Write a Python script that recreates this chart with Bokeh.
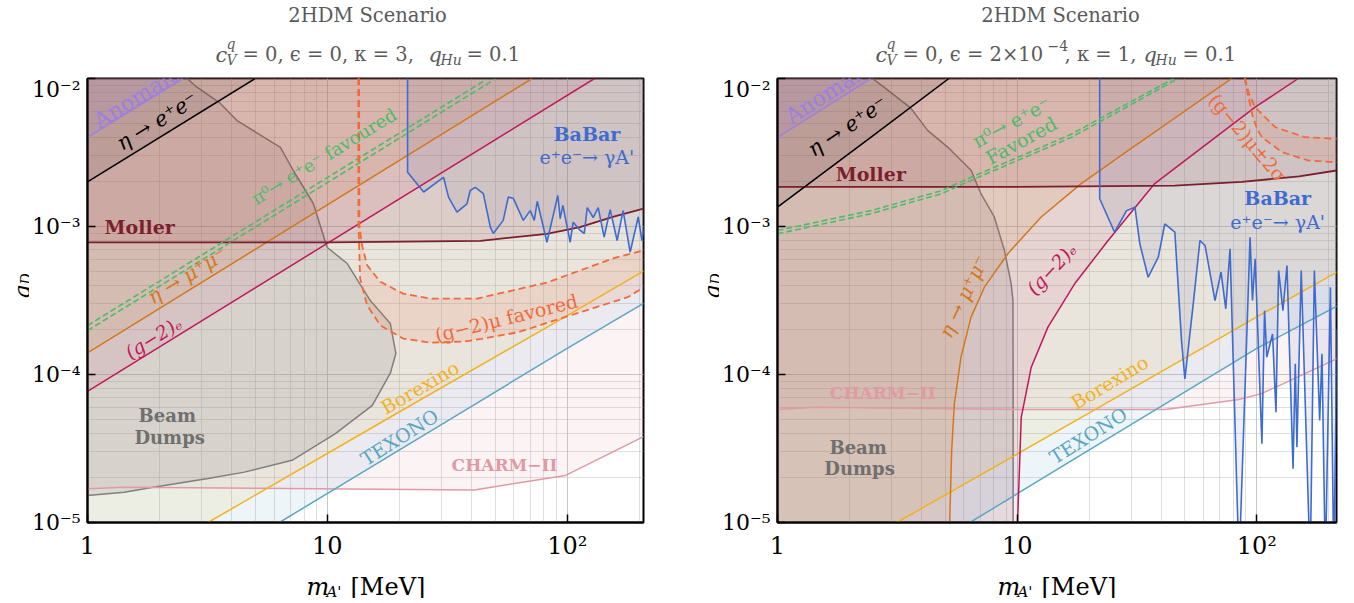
import math
from bokeh.plotting import figure
from bokeh.models import Range1d
from bokeh.layouts import row, column
from bokeh.embed import file_html
from bokeh.resources import INLINE
from bokeh.core.properties import value

SERIF = "DejaVu Serif"

# ======================= DATA =======================
X_TICK_LABELS = {1: "1", 10: "10", 100: "10²"}
Y_TICK_LABELS = {1e-2: "10⁻²", 1e-3: "10⁻³", 1e-4: "10⁻⁴", 1e-5: "10⁻⁵"}

# ---- Left panel: c_V^q = 0, eps = 0, kappa = 3, q_Hu = 0.1 ----
L_xmax = 208
L_anom_m = [1.0, 2.5]
L_anom_g = [4.0e-3, 1.0e-2]
L_etaee_m = [1.0, 5.0]
L_etaee_g = [2.0e-3, 1.0e-2]
L_etamm_m = [1.0, 71.4]
L_etamm_g = [1.4e-4, 1.0e-2]
L_ge_m = [1.0, 130.0]
L_ge_g = [7.7e-5, 1.0e-2]
L_pi0a_m = [1.0, 50.0]
L_pi0a_g = [1.98e-4, 9.9e-3]
L_pi0b_m = [1.0, 46.0]
L_pi0b_g = [2.14e-4, 9.85e-3]
L_moller_m = [1.0, 10.0, 43.5, 82.3, 113.0, 155.0, 208.0]
L_moller_g = [7.8e-4, 7.8e-4, 8.0e-4, 8.93e-4, 9.9e-4, 1.16e-3, 1.32e-3]
L_babar_m = [21.6, 21.6, 25.2, 30.5, 32.0, 34.7, 38.2, 39.4, 41.4, 44.7, 47.8, 49.2,
             54.1, 56.8, 59.6, 65.6, 70.1, 72.9, 75.0, 82.3, 91.4, 93.5, 95.9, 102.9,
             105.9, 113.3, 117.8, 121.2, 128.3, 134.6, 142.6, 151.0, 161.5, 171.0,
             183.0, 197.7, 204.8, 210.0]
L_babar_g = [5e-2, 2.33e-3, 1.71e-3, 2.15e-3, 1.58e-3, 1.25e-3, 1.42e-3, 1.75e-3,
             1.84e-3, 1.67e-3, 9.9e-4, 8.97e-4, 1.10e-3, 1.58e-3, 1.55e-3, 1.10e-3,
             1.28e-3, 1.10e-3, 1.48e-3, 7.83e-4, 1.62e-3, 1.13e-3, 1.39e-3, 7.83e-4,
             1.07e-3, 9.4e-4, 8.97e-4, 1.34e-3, 1.15e-3, 1.34e-3, 8.47e-4, 1.30e-3,
             8.04e-4, 1.28e-3, 6.70e-4, 1.16e-3, 8.04e-4, 1.0e-3]
L_gm2_up_m = [13.55, 13.6, 13.95, 14.64, 16.63, 20.7, 26.9, 42.1, 59.4, 82.6, 113.3, 155.0, 208.0]
L_gm2_up_g = [2e-2, 1.02e-3, 7.48e-4, 5.48e-4, 4.23e-4, 3.52e-4, 3.26e-4, 3.26e-4, 3.7e-4,
              4.19e-4, 5.05e-4, 6.08e-4, 6.9e-4]
L_gm2_lo_m = [13.45, 13.48, 13.7, 14.64, 16.63, 20.7, 26.9, 36.9, 44.0, 62.5, 88.7, 126.0, 178.6, 208.0]
L_gm2_lo_g = [2e-2, 1.02e-3, 4.46e-4, 2.94e-4, 2.15e-4, 1.75e-4, 1.64e-4, 1.67e-4, 1.74e-4,
              1.93e-4, 2.32e-4, 2.78e-4, 3.33e-4, 3.87e-4]
L_bd_m = [2.4, 2.60, 2.86, 3.58, 4.2, 6.37, 7.21, 8.74, 9.97, 12.1, 15.1, 18.3, 19.3, 18.3,
          15.4, 10.8, 7.13, 4.51, 3.18, 1.88, 1.42, 1.0, 0.9, 0.5, 0.5, 2.4]
L_bd_g = [1.2e-2, 1.0e-2, 8.73e-3, 6.78e-3, 5.2e-3, 3.43e-3, 2.39e-3, 1.43e-3, 7.24e-4,
          5.62e-4, 3.16e-4, 2.21e-4, 1.39e-4, 1.02e-4, 6.18e-5, 3.99e-5, 2.63e-5, 2.19e-5,
          1.98e-5, 1.73e-5, 1.60e-5, 1.52e-5, 1.5e-5, 1.5e-5, 0.1, 0.1]
L_charm_m = [1.0, 1.42, 41.0, 98.5, 208.0]
L_charm_g = [1.69e-5, 1.73e-5, 1.66e-5, 2.08e-5, 3.8e-5]
L_borex_m = [1.0, 3.18, 20.0, 100.0, 208.0]
L_borex_g = [3.4e-6, 1.0e-5, 5.6e-5, 2.5e-4, 5.0e-4]
L_texono_m = [1.0, 6.31, 20.0, 100.0, 208.0]
L_texono_g = [1.65e-6, 1.0e-5, 3.1e-5, 1.5e-4, 3.02e-4]

# ---- Right panel: c_V^q = 0, eps = 2e-4, kappa = 1, q_Hu = 0.1 ----
R_xmax = 215
R_anom_m = [1.0, 2.45]
R_anom_g = [4.0e-3, 1.0e-2]
R_etaee_m = [1.0, 2.45, 5.19]
R_etaee_g = [1.35e-3, 4.0e-3, 1.0e-2]
R_etamm_m = [1.0, 5.2, 5.23, 5.33, 5.47, 5.83, 6.42, 7.30, 9.14, 12.6, 18.5, 29.1, 78.6]
R_etamm_g = [1e-6, 1e-6, 1.0e-5, 3.06e-5, 6.34e-5, 1.31e-4, 2.44e-4, 3.89e-4, 6.55e-4,
             1.16e-3, 1.95e-3, 3.27e-3, 1.0e-2]
R_ge_m = [1.0, 10.0, 10.04, 10.4, 11.45, 13.44, 17.37, 23.96, 37.5, 98.4, 149.0]
R_ge_g = [1e-6, 1e-6, 1.0e-5, 5.14e-5, 1.12e-4, 2.09e-4, 4.1e-4, 8.04e-4, 1.95e-3, 6.4e-3, 1.0e-2]
R_pi0a_m = [1.0, 2.45, 4.81, 6.42, 12.6, 16.8, 24.0, 45.4, 47.0]
R_pi0a_g = [8.93e-4, 1.22e-3, 1.66e-3, 2.05e-3, 3.27e-3, 4.0e-3, 5.48e-3, 9.7e-3, 1.0e-2]
R_pi0b_m = [1.0, 2.45, 4.81, 6.42, 12.6, 16.8, 24.0, 45.0]
R_pi0b_g = [9.4e-4, 1.28e-3, 1.74e-3, 2.15e-3, 3.43e-3, 4.2e-3, 5.75e-3, 1.0e-2]
R_moller_m = [1.0, 10.0, 45.4, 86.5, 150.0, 215.0]
R_moller_g = [1.85e-3, 1.85e-3, 1.89e-3, 2.0e-3, 2.18e-3, 2.39e-3]
R_babar_m = [22.1, 22.1, 25.5, 28.6, 31.0, 32.5, 35.2, 38.8, 41.3, 45.5, 48.5, 50.1, 54.3,
             57.9, 60.8, 66.9, 70.9, 74.2, 77.3, 84.3, 93.7, 95.9, 98.4, 105.0, 107.7,
             110.1, 116.3, 120.2, 123.3, 128.5, 133.6, 141.6, 144.7, 147.0, 153.2, 167.0,
             173.8, 182.9, 187.0, 193.2, 202.8, 209.4, 216.0]
R_babar_g = [5e-2, 1.54e-3, 9.15e-4, 1.28e-3, 1.35e-3, 7.64e-4, 4.54e-4, 6.2e-4, 1.04e-3,
             9.15e-4, 1.70e-4, 9.35e-5, 3.01e-4, 8.04e-4, 7.44e-4, 3.16e-4, 4.91e-4,
             2.78e-4, 7.06e-4, 5e-6, 8.47e-4, 3.16e-4, 6.05e-4, 3.4e-5, 2.7e-4, 1.31e-4,
             1.88e-4, 5.56e-5, 5.05e-4, 2.7e-4, 5.45e-4, 2.31e-5, 1.18e-4, 3.23e-5,
             5.05e-4, 5e-6, 5.05e-4, 4.89e-5, 1.38e-4, 5e-6, 3.89e-4, 5e-6, 2.0e-4]
R_gm2_up_m = [89.0, 89.4, 92.5, 98.4, 119.3, 159.2, 212.6, 220.0]
R_gm2_up_g = [2e-2, 1.0e-2, 8.0e-3, 6.4e-3, 4.69e-3, 4.01e-3, 3.92e-3, 3.9e-3]
R_gm2_lo_m = [88.6, 89.0, 92.0, 96.0, 100.0, 105.0, 127.3, 164.6, 212.6, 220.0]
R_gm2_lo_g = [2e-2, 1.0e-2, 7.6e-3, 5.6e-3, 4.6e-3, 4.01e-3, 3.18e-3, 2.79e-3, 2.72e-3, 2.7e-3]
R_bd_m = [2.3, 2.49, 2.78, 3.60, 4.23, 5.13, 6.42, 7.07, 8.03, 8.85, 9.44, 9.6, 9.62, 9.62,
          0.5, 0.5, 2.3]
R_bd_g = [1.2e-2, 1.0e-2, 8.74e-3, 6.3e-3, 4.46e-3, 3.44e-3, 2.4e-3, 1.66e-3, 1.16e-3,
          6.89e-4, 4.1e-4, 3.17e-4, 1.0e-4, 5e-6, 5e-6, 0.1, 0.1]
R_charm_m = [1.0, 1.43, 10.2, 41.6, 84.1, 104.0, 128.5, 216.0]
R_charm_g = [5.8e-5, 6.0e-5, 5.8e-5, 5.8e-5, 6.78e-5, 7.4e-5, 8.65e-5, 1.28e-4]
R_borex_m = [1.0, 3.15, 20.0, 100.0, 215.0]
R_borex_g = [3.4e-6, 1.0e-5, 5.5e-5, 2.45e-4, 4.9e-4]
R_texono_m = [1.0, 6.36, 20.0, 100.0, 218.0]
R_texono_g = [1.6e-6, 1.0e-5, 3.1e-5, 1.5e-4, 2.92e-4]

# ======================= STYLE =======================
C_ANOM = "#9d7fe0"
C_ETAEE = "#000000"
C_PI0 = "#4cbb6c"
C_ETAMM = "#d4771c"
C_GE = "#c2185b"
C_MOLLER = "#7d1e2e"
C_BABAR = "#3e6bd0"
C_GM2 = "#f26a3a"
C_BD = "#7f7f7f"
C_BOREX = "#f2b21d"
C_TEXONO = "#5aa7c2"
C_CHARM = "#e09aa4"
C_TITLE = "#5a5a5a"

MAIN_H = 488      # 2 + 444 frame + 42
HEAD_H = 76
FOOT_H = 34


def make_fig(width, bl, br, xmax):
    p = figure(width=width, height=MAIN_H, x_axis_type="log", y_axis_type="log",
               x_range=Range1d(1, xmax), y_range=Range1d(1e-5, 1e-2),
               output_backend="svg", toolbar_location=None,
               min_border_left=bl, min_border_right=br,
               min_border_top=2, min_border_bottom=42)
    p.outline_line_color = "black"
    p.outline_line_width = 2
    p.outline_line_alpha = 1
    for ax in (p.xaxis, p.yaxis):
        ax.axis_line_color = "black"
        ax.axis_line_width = 2
        ax.major_tick_in = 8
        ax.major_tick_out = 0
        ax.major_tick_line_width = 1.5
        ax.minor_tick_line_color = None
        ax.major_label_text_font = SERIF
        ax.major_label_text_color = "black"
    p.xaxis.major_label_text_font_size = "24px"
    p.yaxis.major_label_text_font_size = "22px"
    p.xaxis.major_label_standoff = 5
    p.yaxis.major_label_standoff = 3
    p.xaxis.major_label_overrides = X_TICK_LABELS
    p.yaxis.major_label_overrides = Y_TICK_LABELS
    p.grid.grid_line_color = "#bfbfbf"
    p.grid.grid_line_alpha = 0.5
    p.grid.minor_grid_line_color = "#bfbfbf"
    p.grid.minor_grid_line_alpha = 0.5
    return p


def strip(width, height):
    f = figure(width=width, height=height, x_range=Range1d(0, width), y_range=Range1d(height, 0),
               x_axis_type=None, y_axis_type=None, output_backend="svg",
               toolbar_location=None, min_border=0)
    f.outline_line_color = None
    return f


def above(p, m, g, color, alpha):
    p.varea(x=m, y1=g, y2=[1.0] * len(g), fill_color=color, fill_alpha=alpha)


def band(p, m_up, g_up, m_lo, g_lo, color, alpha):
    p.patch(x=list(m_up) + list(m_lo)[::-1], y=list(g_up) + list(g_lo)[::-1],
            fill_color=color, fill_alpha=alpha, line_color=None)


def txt(p, m, g, text, color, size="19px", angle=0.0, style="normal", align="center",
        baseline="middle"):
    p.text(x=[m], y=[g], text=[text], angle=angle, text_color=color,
           text_font=value(SERIF), text_font_size=size, text_font_style=style,
           text_align=align, text_baseline=baseline)


def stxt(f, x, y, text, size, style="normal", color=C_TITLE, angle=0.0, align="left",
         baseline="alphabetic"):
    f.text(x=[x], y=[y], text=[text], angle=angle, text_color=color,
           text_font=value(SERIF), text_font_size=size, text_font_style=style,
           text_align=align, text_baseline=baseline)


def draw_panel(p, d):
    above(p, d["charm"][0], d["charm"][1], "#e8a0aa", 0.12)
    above(p, d["texono"][0], d["texono"][1], "#6fb0cc", 0.12)
    above(p, d["borex"][0], d["borex"][1], "#e8c050", 0.12)
    p.patch(x=d["bd"][0], y=d["bd"][1], fill_color="#707070", fill_alpha=0.15,
            line_color=C_BD, line_width=1.5)
    above(p, d["ge"][0], d["ge"][1], C_GE, 0.08)
    above(p, d["etamm"][0], d["etamm"][1], C_ETAMM, 0.1)
    above(p, d["moller"][0], d["moller"][1], "#8b2a3a", 0.12)
    above(p, d["etaee"][0], d["etaee"][1], "#3a3030", 0.1)
    above(p, d["anom"][0], d["anom"][1], C_ANOM, 0.15)
    above(p, d["babar"][0], d["babar"][1], "#5a6aa8", 0.1)
    band(p, d["gup"][0], d["gup"][1], d["glo"][0], d["glo"][1], C_GM2, 0.13)

    p.line(*d["charm"], line_color=C_CHARM, line_width=1.5)
    p.line(*d["texono"], line_color=C_TEXONO, line_width=1.5)
    p.line(*d["borex"], line_color=C_BOREX, line_width=1.5)
    p.line(*d["ge"], line_color=C_GE, line_width=1.5)
    p.line(*d["etamm"], line_color=C_ETAMM, line_width=1.5)
    p.line(*d["moller"], line_color=C_MOLLER, line_width=1.8)
    p.line(*d["etaee"], line_color=C_ETAEE, line_width=1.5)
    p.line(*d["anom"], line_color=C_ANOM, line_width=1.5)
    p.line(*d["babar"], line_color=C_BABAR, line_width=1.6)
    p.line(*d["pi0a"], line_color=C_PI0, line_width=1.6, line_dash="6 3")
    p.line(*d["pi0b"], line_color=C_PI0, line_width=1.6, line_dash="6 3")
    p.line(*d["gup"], line_color=C_GM2, line_width=1.8, line_dash="7 4")
    p.line(*d["glo"], line_color=C_GM2, line_width=1.8, line_dash="7 4")


# ======================= LEFT PANEL =======================
p1 = make_fig(651, 58, 37, L_xmax)
draw_panel(p1, dict(charm=(L_charm_m, L_charm_g), texono=(L_texono_m, L_texono_g),
                    borex=(L_borex_m, L_borex_g), bd=(L_bd_m, L_bd_g), ge=(L_ge_m, L_ge_g),
                    etamm=(L_etamm_m, L_etamm_g), moller=(L_moller_m, L_moller_g),
                    etaee=(L_etaee_m, L_etaee_g), anom=(L_anom_m, L_anom_g),
                    babar=(L_babar_m, L_babar_g), pi0a=(L_pi0a_m, L_pi0a_g),
                    pi0b=(L_pi0b_m, L_pi0b_g), gup=(L_gm2_up_m, L_gm2_up_g),
                    glo=(L_gm2_lo_m, L_gm2_lo_g)))

txt(p1, 1.08, 5.04e-3, "Anomalous", C_ANOM, size="22px", angle=0.553, align="left",
    baseline="alphabetic")
txt(p1, 1.95, 5.14e-3, "η → e⁺e⁻", C_ETAEE, size="21px", angle=0.553, style="italic")
txt(p1, 9.9, 3.05e-3, "π⁰→ e⁺e⁻  favoured", C_PI0, size="18px", angle=0.553)
txt(p1, 1.65, 1.0e-3, "Moller", C_MOLLER, size="19px", style="bold")
txt(p1, 2.6, 4.67e-4, "η → μ⁺μ⁻", C_ETAMM, size="20px", angle=0.553, style="italic")
txt(p1, 1.88, 1.78e-4, "(g−2)ₑ", C_GE, size="19px", angle=0.553, style="italic")
txt(p1, 120.8, 4.22e-3, "BaBar", C_BABAR, size="19px", style="bold")
txt(p1, 120.8, 2.97e-3, "e⁺e⁻→ γA'", C_BABAR, size="19px")
txt(p1, 57.3, 2.44e-4, "(g−2)μ  favored", C_GM2, size="19px", angle=0.242)
txt(p1, 24.3, 8.2e-5, "Borexino", C_BOREX, size="19px", angle=0.527)
txt(p1, 20.0, 3.77e-5, "TEXONO", C_TEXONO, size="19px", angle=0.565)
txt(p1, 54.8, 2.46e-5, "CHARM−II", C_CHARM, size="17px", style="bold")
txt(p1, 2.15, 5.28e-5, "Beam", "#6f6f6f", size="18px", style="bold")
txt(p1, 2.2, 3.77e-5, "Dumps", "#6f6f6f", size="18px", style="bold")

# ======================= RIGHT PANEL =======================
p2 = make_fig(627, 58, 10, R_xmax)
draw_panel(p2, dict(charm=(R_charm_m, R_charm_g), texono=(R_texono_m, R_texono_g),
                    borex=(R_borex_m, R_borex_g), bd=(R_bd_m, R_bd_g), ge=(R_ge_m, R_ge_g),
                    etamm=(R_etamm_m, R_etamm_g), moller=(R_moller_m, R_moller_g),
                    etaee=(R_etaee_m, R_etaee_g), anom=(R_anom_m, R_anom_g),
                    babar=(R_babar_m, R_babar_g), pi0a=(R_pi0a_m, R_pi0a_g),
                    pi0b=(R_pi0b_m, R_pi0b_g), gup=(R_gm2_up_m, R_gm2_up_g),
                    glo=(R_gm2_lo_m, R_gm2_lo_g)))

txt(p2, 1.10, 5.37e-3, "Anomalous", C_ANOM, size="22px", angle=0.57, align="left",
    baseline="alphabetic")
txt(p2, 1.96, 4.75e-3, "η → e⁺e⁻", C_ETAEE, size="21px", angle=0.59, style="italic")
txt(p2, 9.44, 5.07e-3, "π⁰→ e⁺e⁻", C_PI0, angle=0.495)
txt(p2, 10.4, 3.81e-3, "Favored", C_PI0, angle=0.5)
txt(p2, 2.45, 2.25e-3, "Moller", C_MOLLER, size="19px", style="bold")
txt(p2, 5.97, 3.37e-4, "η → μ⁺μ⁻", C_ETAMM, size="20px", angle=1.13, style="italic")
txt(p2, 13.9, 5.18e-4, "(g−2)ₑ", C_GE, size="19px", angle=0.82, style="italic")
txt(p2, 122.2, 1.56e-3, "BaBar", C_BABAR, size="19px", style="bold")
txt(p2, 122.2, 1.08e-3, "e⁺e⁻→ γA'", C_BABAR, size="19px")
txt(p2, 91.7, 3.99e-3, "(g−2)μ±2σ", C_GM2, size="19px", angle=-0.87)
txt(p2, 24.3, 8.87e-5, "Borexino", C_BOREX, size="19px", angle=0.54)
txt(p2, 19.8, 3.87e-5, "TEXONO", C_TEXONO, size="19px", angle=0.565)
txt(p2, 2.75, 7.5e-5, "CHARM−II", C_CHARM, size="17px", style="bold")
txt(p2, 2.17, 3.23e-5, "Beam", "#6f6f6f", size="18px", style="bold")
txt(p2, 2.2, 2.31e-5, "Dumps", "#6f6f6f", size="18px", style="bold")

# ======================= TITLES (header strips) =======================
hL = strip(680, HEAD_H)
stxt(hL, 367, 15, "2HDM Scenario", "19.5px", align="center", baseline="middle")
stxt(hL, 215, 54, "c", "21px", style="italic")
stxt(hL, 226, 43, "q", "14px", style="italic")
stxt(hL, 226, 59, "V", "14px", style="italic")
stxt(hL, 242, 54, "= 0, ϵ = 0, κ = 3,", "19.5px")
stxt(hL, 428, 54, "q", "21px", style="italic")
stxt(hL, 440, 59, "Hu", "14px", style="italic")
stxt(hL, 466, 54, "= 0.1", "19.5px")

hR = strip(666, HEAD_H)
stxt(hR, 380, 15, "2HDM Scenario", "19.5px", align="center", baseline="middle")
stxt(hR, 195, 54, "c", "21px", style="italic")
stxt(hR, 206, 43, "q", "14px", style="italic")
stxt(hR, 206, 59, "V", "14px", style="italic")
stxt(hR, 222, 54, "= 0, ϵ = 2×10", "19.5px")
stxt(hR, 367, 45, "−4", "14px")
stxt(hR, 384, 54, ", κ = 1,", "19.5px")
stxt(hR, 463, 54, "q", "21px", style="italic")
stxt(hR, 475, 59, "Hu", "14px", style="italic")
stxt(hR, 502, 54, "= 0.1", "19.5px")

# ======================= Y-AXIS LABEL STRIPS (g_D, rotated) =======================
yl1 = strip(29, MAIN_H)
stxt(yl1, 21.5, 227, "g", "22px", style="italic", color="black", angle=math.pi / 2, align="right")
stxt(yl1, 25.5, 214, "D", "14px", style="italic", color="black", angle=math.pi / 2, align="right")
yl2 = strip(39, MAIN_H)
stxt(yl2, 31.5, 227, "g", "22px", style="italic", color="black", angle=math.pi / 2, align="right")
stxt(yl2, 35.5, 214, "D", "14px", style="italic", color="black", angle=math.pi / 2, align="right")

# ======================= X-AXIS LABEL STRIPS =======================
fL = strip(680, FOOT_H)
stxt(fL, 306, 22, "m", "24px", style="italic", color="black")
stxt(fL, 326, 27, "A'", "15px", style="italic", color="black")
stxt(fL, 350, 22, "[MeV]", "24px", color="black")
fR = strip(666, FOOT_H)
stxt(fR, 317, 22, "m", "24px", style="italic", color="black")
stxt(fR, 337, 27, "A'", "15px", style="italic", color="black")
stxt(fR, 361, 22, "[MeV]", "24px", color="black")

layout = column(row(hL, hR), row(yl1, p1, yl2, p2), row(fL, fR))
open("out.html", "w").write(file_html(layout, INLINE))
